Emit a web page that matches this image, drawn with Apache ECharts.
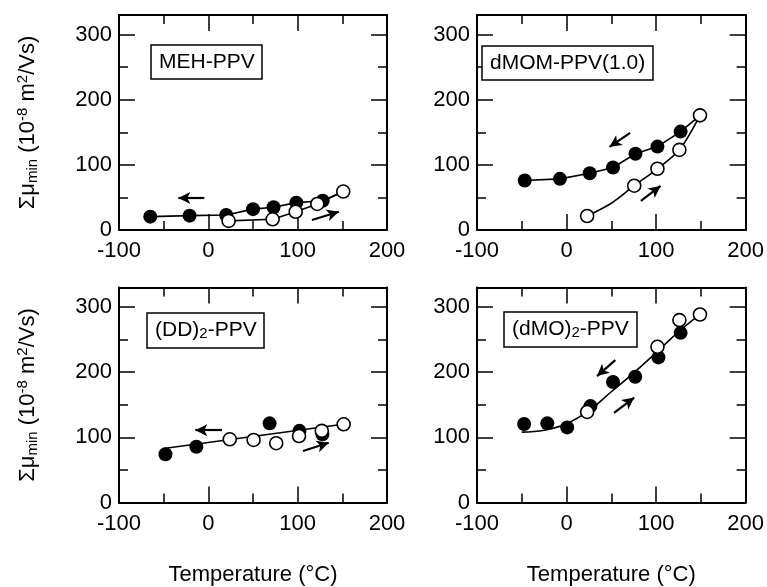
<!DOCTYPE html>
<html>
<head>
<meta charset="utf-8">
<script src="https://cdn.jsdelivr.net/npm/echarts@6/dist/echarts.min.js"></script>
<style>
html,body{margin:0;padding:0;background:#fff;}
#c{width:767px;height:587px;}
</style>
</head>
<body>
<div id="c"></div>
<script>
// ---- axis definitions ----
const xMin = -100, xMax = 200, xStep = 100;
const yMin = 0, yMax = 330, yStep = 100, yMinorStep = 50;
const yName = '{m|Σμ}{s|min}{m| (10}{p|-8}{m| m}{p|2}{m|/Vs)}';
const xName = 'Temperature (°C)';
const panelTitles = ['{m|MEH-PPV}', '{m|dMOM-PPV(1.0)}', '{m|(DD)}{s|2}{m|-PPV}', '{m|(dMO)}{s|2}{m|-PPV}'];

// ---- Panel 1: MEH-PPV ----
const mehHeatT  = [22.7, 72, 97.8, 122, 151];
const mehHeatMu = [14, 16.4, 28, 40, 59];
const mehCoolT  = [128, 98.5, 73, 50, 20, -21, -65];
const mehCoolMu = [45, 42, 35, 32, 23, 22, 20.5];
const mehArrows = [[-4.5, 49, -33.6, 49], [116, 15.4, 146, 28]];

// ---- Panel 2: dMOM-PPV(1.0) ----
const dmomHeatT  = [23, 75.6, 101.5, 126, 149];
const dmomHeatMu = [21.5, 68, 94, 123, 176];
const dmomHeatCurveT  = [23, 50, 75.6, 101.5, 126, 149];
const dmomHeatCurveMu = [21.5, 41, 68, 94, 123, 176];
const dmomCoolT  = [127.4, 101.5, 77, 51.9, 25.9, -7.4, -46.7];
const dmomCoolMu = [151, 128, 117, 96, 87, 78.5, 76];
const dmomArrows = [[71, 149, 48, 127.6], [83, 44.6, 105, 67.7]];

// ---- Panel 3: (DD)2-PPV ----
const ddCoolT  = [127.7, 102, 68.6, -13.4, -48];
const ddCoolMu = [104.6, 110, 121.5, 85.6, 74];
const ddHeatT  = [24, 50.7, 76, 101.5, 127, 151.5];
const ddHeatMu = [97, 96, 91, 102, 110, 120];
const ddFitT  = [-50, 151];
const ddFitMu = [83, 120];
const ddArrows = [[15.3, 111, -14.6, 111], [106, 79, 134.8, 91.7]];

// ---- Panel 4: (dMO)2-PPV ----
const dmoCoolT  = [127.4, 102.6, 76.7, 51.9, 26.7, 0.7, -21.5, -47.4];
const dmoCoolMu = [260.4, 222.7, 193, 185, 148, 115.3, 121.5, 120.4];
const dmoHeatT  = [23, 101.5, 126, 149];
const dmoHeatMu = [139, 239, 280, 288.6];
const dmoFitT  = [-50, -25, 0, 25, 50, 75, 100, 125, 150];
const dmoFitMu = [108, 111, 121, 141, 170, 199, 230, 262, 290];
const dmoArrows = [[54.4, 218.6, 34, 194], [53, 137.7, 75.6, 161]];

// ---- helpers ----
const zip = (a, b) => a.map((v, i) => [v, b[i]]);
const FONT = "'Liberation Sans', Arial, Helvetica, sans-serif";
const BLACK = '#000';
const FS = 22;

const panels = [
  { lines: [
      { d: zip([mehHeatT[mehHeatT.length-1]].concat(mehCoolT), [mehHeatMu[mehHeatMu.length-1]].concat(mehCoolMu)), smooth: false },
      { d: zip(mehHeatT, mehHeatMu), smooth: false }],
    filled: zip(mehCoolT, mehCoolMu), open: zip(mehHeatT, mehHeatMu), arrows: mehArrows },
  { lines: [
      { d: zip([dmomHeatT[dmomHeatT.length-1]].concat(dmomCoolT), [dmomHeatMu[dmomHeatMu.length-1]].concat(dmomCoolMu)), smooth: false },
      { d: zip(dmomHeatCurveT, dmomHeatCurveMu), smooth: 0.3 }],
    filled: zip(dmomCoolT, dmomCoolMu), open: zip(dmomHeatT, dmomHeatMu), arrows: dmomArrows },
  { lines: [ { d: zip(ddFitT, ddFitMu), smooth: false } ],
    filled: zip(ddCoolT, ddCoolMu), open: zip(ddHeatT, ddHeatMu), arrows: ddArrows },
  { lines: [ { d: zip(dmoFitT, dmoFitMu), smooth: 0.4 } ],
    filled: zip(dmoCoolT, dmoCoolMu), open: zip(dmoHeatT, dmoHeatMu), arrows: dmoArrows }
];

const gridPos = [
  { left: 119, top: 15, width: 268, height: 215 },
  { left: 477, top: 15, width: 270, height: 215 },
  { left: 119, top: 287.5, width: 268, height: 215 },
  { left: 477, top: 287.5, width: 270, height: 215 }
];
const titlePos = [
  { left: 151, top: 44 }, { left: 482, top: 45 }, { left: 147, top: 312 }, { left: 504, top: 311 }
];

const lineAxis = { show: true, onZero: false, lineStyle: { color: BLACK, width: 2 } };
const noLine = { show: false, onZero: false };
const grids = [], xAxes = [], yAxes = [], series = [], titles = [];

gridPos.forEach((g, i) => {
  grids.push(Object.assign({ containLabel: false, show: false }, g));
  const bottomRow = i >= 2;
  const leftCol = i % 2 === 0;
  const xBase = {
    gridIndex: i, type: 'value', min: xMin, max: xMax, interval: xStep,
    axisLine: lineAxis, splitLine: { show: false },
    axisTick: { show: true, inside: true, length: 16, lineStyle: { color: BLACK, width: 1.5 } },
    minorTick: { show: true, splitNumber: 2, length: 9, lineStyle: { color: BLACK, width: 1.5 } },
    minorSplitLine: { show: false }
  };
  xAxes.push(Object.assign({}, xBase, {
    position: 'bottom',
    axisLabel: { show: true, fontSize: FS, color: BLACK, fontFamily: FONT, margin: 10 },
    name: bottomRow ? xName : '', nameLocation: 'middle', nameGap: 61,
    nameTextStyle: { fontSize: FS, color: BLACK, fontFamily: FONT }
  }));
  xAxes.push(Object.assign({}, xBase, { position: 'top', axisLabel: { show: false } }));

  const yBase = {
    gridIndex: i, type: 'value', min: yMin, max: yMax, splitLine: { show: false }
  };
  const majorTick = { show: true, inside: true, length: 16, lineStyle: { color: BLACK, width: 1.5 } };
  const minorTickY = { show: true, inside: true, length: 9, lineStyle: { color: BLACK, width: 1.5 } };
  yAxes.push(Object.assign({}, yBase, {
    position: 'left', interval: yStep, axisLine: lineAxis, axisTick: majorTick,
    axisLabel: { show: true, fontSize: FS, color: BLACK, fontFamily: FONT, margin: 7,
      formatter: v => (v % 100 === 0 ? String(v) : '') },
    name: leftCol ? yName : '', nameLocation: 'middle', nameRotate: 90, nameGap: 79,
    nameTextStyle: { fontSize: FS, color: BLACK, fontFamily: FONT,
      rich: {
        m: { fontSize: FS, fontFamily: FONT, color: BLACK, lineHeight: 25, verticalAlign: 'middle' },
        s: { fontSize: 15, fontFamily: FONT, color: BLACK, lineHeight: 8, verticalAlign: 'bottom' },
        p: { fontSize: 15, fontFamily: FONT, color: BLACK, lineHeight: 8, verticalAlign: 'top' }
      } }
  }));
  yAxes.push(Object.assign({}, yBase, {
    position: 'left', interval: yMinorStep, axisLine: noLine, axisTick: minorTickY, axisLabel: { show: false }
  }));
  yAxes.push(Object.assign({}, yBase, {
    position: 'right', interval: yStep, axisLine: lineAxis, axisTick: majorTick, axisLabel: { show: false }
  }));
  yAxes.push(Object.assign({}, yBase, {
    position: 'right', interval: yMinorStep, axisLine: noLine, axisTick: minorTickY, axisLabel: { show: false }
  }));

  const xi = i * 2, yi = i * 4;
  const p = panels[i];
  p.lines.forEach((ln, k) => {
    const s = {
      type: 'line', xAxisIndex: xi, yAxisIndex: yi, data: ln.d, smooth: ln.smooth,
      showSymbol: false, symbol: 'none', silent: true, z: 2,
      lineStyle: { color: BLACK, width: 1.6 }
    };
    if (k === 0) {
      s.markLine = {
        silent: true, symbol: ['none', 'arrow'], symbolSize: [9, 12], precision: 4,
        label: { show: false }, lineStyle: { color: BLACK, width: 2.2, type: 'solid' },
        data: p.arrows.map(a => [{ coord: [a[0], a[1]] }, { coord: [a[2], a[3]] }])
      };
    }
    series.push(s);
  });
  series.push({
    type: 'scatter', xAxisIndex: xi, yAxisIndex: yi, data: p.filled, symbol: 'circle', symbolSize: 14,
    itemStyle: { color: BLACK, opacity: 1 }, z: 3, silent: true
  });
  series.push({
    type: 'scatter', xAxisIndex: xi, yAxisIndex: yi, data: p.open, symbol: 'circle', symbolSize: 13,
    itemStyle: { color: '#fff', borderColor: BLACK, borderWidth: 1.6, opacity: 1 }, z: 4, silent: true
  });

  titles.push(Object.assign({
    text: panelTitles[i], borderColor: BLACK, borderWidth: 1.5, padding: [7, 8],
    backgroundColor: '#fff',
    textStyle: { fontSize: 21, fontWeight: 'normal', color: BLACK, fontFamily: FONT,
      rich: {
        m: { fontSize: 21, fontFamily: FONT, color: BLACK, lineHeight: 22, verticalAlign: 'middle' },
        s: { fontSize: 15, fontFamily: FONT, color: BLACK, lineHeight: 6, verticalAlign: 'bottom' }
      } }
  }, titlePos[i]));
});

const chart = echarts.init(document.getElementById('c'), null, { renderer: 'canvas' });
chart.setOption({
  animation: false,
  backgroundColor: '#fff',
  textStyle: { fontFamily: FONT },
  title: titles,
  grid: grids,
  xAxis: xAxes,
  yAxis: yAxes,
  series: series
});
</script>
</body>
</html>
